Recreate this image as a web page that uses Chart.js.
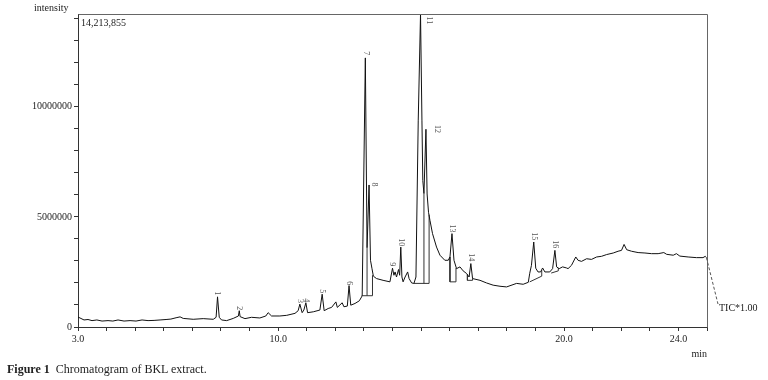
<!DOCTYPE html>
<html>
<head>
<meta charset="utf-8">
<script src="https://cdn.jsdelivr.net/npm/chart.js@4"></script>
<style>
  html, body { margin: 0; padding: 0; background: #fff; }
  #wrap { position: relative; width: 768px; height: 380px; }
  canvas { position: absolute; left: 0; top: 0; }
  #caption { position: absolute; left: 7px; top: 362px; font-family: "Liberation Serif", serif; font-size: 12px; color: #222; white-space: pre; }
  #caption b { font-weight: bold; }
</style>
</head>
<body>
<div id="wrap">
  <canvas id="c" width="768" height="380"></canvas>
  <div id="caption"><b>Figure 1</b>  Chromatogram of BKL extract.</div>
</div>
<script>
// ---- data ----
// retention time (min)
const rt = [
  3.00, 3.07, 3.21, 3.35, 3.49, 3.66, 3.84, 4.05, 4.22, 4.40, 4.61, 4.82, 5.03, 5.24, 5.45, 5.66, 5.87, 6.08, 6.25, 6.43,
  6.57, 6.68, 7.03, 7.38, 7.73, 7.83, 7.88, 7.94, 8.02, 8.20, 8.43, 8.61, 8.64, 8.67, 8.84, 9.07, 9.36, 9.57, 9.65, 9.77,
  10.06, 10.30, 10.59, 10.70, 10.76, 10.84, 10.90, 10.97, 11.03, 11.23, 11.46, 11.54, 11.61, 11.75, 11.87, 12.02, 12.07,
  12.24, 12.30, 12.42, 12.48, 12.54, 12.69, 12.84, 12.92, 12.94, 13.05, 13.11, 13.18, 13.23, 13.28, 13.33, 13.44, 13.67,
  13.91, 14.00, 14.05, 14.09, 14.14, 14.21, 14.25, 14.29, 14.33, 14.37, 14.44, 14.53, 14.58, 14.67, 14.75, 14.82, 14.90,
  14.98, 15.03, 15.06, 15.10, 15.17, 15.21, 15.26, 15.31, 15.40, 15.54, 15.66, 15.83, 15.95, 16.01, 16.08, 16.15, 16.24,
  16.36, 16.47, 16.59, 16.68, 16.74, 16.80, 17.06, 17.29, 17.52, 17.76, 17.99, 18.34, 18.57, 18.75, 18.80, 18.86, 18.94,
  19.01, 19.09, 19.18, 19.25, 19.33, 19.50, 19.60, 19.68, 19.74, 19.83, 19.95, 20.09, 20.14, 20.26, 20.41, 20.49, 20.61,
  20.79, 20.96, 21.14, 21.31, 21.49, 21.72, 21.89, 22.01, 22.10, 22.19, 22.36, 22.59, 22.83, 23.06, 23.29, 23.49, 23.59,
  23.82, 23.93, 24.05, 24.34, 24.63, 24.86, 24.94, 24.98
];
// total ion current (intensity)
const tic = [
  450000, 410000, 320000, 340000, 290000, 320000, 270000, 290000, 270000, 320000, 270000, 290000, 270000, 320000, 290000, 300000, 320000, 340000, 360000, 420000,
  460000, 390000, 350000, 380000, 350000, 440000, 1370000, 440000, 320000, 290000, 390000, 500000, 740000, 470000, 380000, 440000, 410000, 500000, 650000, 500000,
  500000, 530000, 620000, 740000, 1040000, 650000, 770000, 1100000, 650000, 690000, 770000, 1490000, 740000, 840000, 890000, 1140000, 890000,
  1100000, 920000, 950000, 1880000, 990000, 1070000, 1190000, 1370000, 1450000, 12220000, 3600000, 6450000, 3030000, 2670000, 2310000, 2200000, 2120000,
  2050000, 2670000, 2350000, 2500000, 2270000, 2610000, 2350000, 3630000, 2270000, 2050000, 2270000, 2500000, 2200000, 2000000, 1980000, 2270000, 9360000,
  14213855, 9360000, 6650000, 6060000, 8980000, 6040000, 5210000, 4840000, 4240000, 3630000, 3260000, 3030000, 3030000, 3180000, 4240000, 3030000, 2650000,
  2730000, 2550000, 2430000, 2270000, 2880000, 2200000, 2120000, 2000000, 1900000, 1850000, 1820000, 1980000, 1940000, 2030000, 2440000, 2800000, 3860000,
  2670000, 2500000, 2500000, 2680000, 2500000, 2500000, 2650000, 3480000, 2730000, 2650000, 2730000, 2680000, 2650000, 2800000, 3180000, 3030000, 2980000,
  3100000, 3070000, 3180000, 3210000, 3290000, 3360000, 3440000, 3480000, 3750000, 3510000, 3440000, 3380000, 3360000, 3330000, 3330000, 3380000, 3300000,
  3260000, 3330000, 3220000, 3180000, 3150000, 3150000, 3210000, 3150000
];
// integration (baseline / drop) lines: null separates segments
const intRT  = [12.93, 13.30, 13.30, null, 13.11, 13.11, null, 14.75, 15.28, 15.28, null, 15.10, 15.10, null,
                16.01, 16.01, 16.22, 16.22, null, 16.62, 16.62, 16.80, 16.80, null, 18.80, 19.22, 19.22, null, 19.55, 19.80, 19.80];
const intVal = [1420000, 1420000, 2350000, null, 1420000, 3600000, null, 1980000, 1980000, 5100000, null, 1980000, 6060000, null,
                3180000, 2050000, 2050000, 2680000, null, 2380000, 2120000, 2120000, 2200000, null, 2050000, 2310000, 2580000, null, 2450000, 2550000, 2680000];
// peak numbers and where their labels sit
const peakNo    = ['1','2','3','4','5','6','7','8','9','10','11','12','13','14','15','16'];
const peakLabRT = [7.88, 8.64, 10.76, 10.97, 11.54, 12.48, 13.06, 13.37, 14.00, 14.29, 15.27, 15.55, 16.08, 16.74, 18.96, 19.68];
const peakLabI  = [1400000, 720000, 1040000, 1080000, 1490000, 1850000, 12300000, 6330000, 2710000, 3620000, 13700000, 8770000, 4250000, 2940000, 3890000, 3530000];
// axis settings / tick labels
const xMin = 3, xMax = 25, xStep = 1;
const xLabeled = [3, 10, 20, 24];
const yMax = 14213855, yStep = 1000000;
const yLabeled = [0, 5000000, 10000000];
const maxText = '14,213,855';
const yTitle = 'intensity';
const xTitle = 'min';
const traceName = 'TIC*1.00';

const FONT = '"Liberation Serif", "Times New Roman", serif';

const ticData = rt.map((t, i) => ({ x: t, y: tic[i] }));
const intData = intRT.map((t, i) => ({ x: t, y: intVal[i] }));

const annot = {
  id: 'annot',
  afterDraw(chart) {
    const ctx = chart.ctx;
    const ca = chart.chartArea;
    const xs = chart.scales.x, ys = chart.scales.y;
    ctx.save();
    // frame top and right
    ctx.strokeStyle = '#666';
    ctx.lineWidth = 1;
    ctx.beginPath();
    ctx.moveTo(Math.round(ca.left) + 0.5, Math.round(ca.top) + 0.5);
    ctx.lineTo(Math.round(ca.right) + 0.5, Math.round(ca.top) + 0.5);
    ctx.lineTo(Math.round(ca.right) + 0.5, Math.round(ca.bottom) + 0.5);
    ctx.stroke();
    // peak labels (rotated)
    ctx.fillStyle = '#555';
    ctx.font = '8px ' + FONT;
    peakNo.forEach((lab, i) => {
      const px = xs.getPixelForValue(peakLabRT[i]);
      const py = ys.getPixelForValue(peakLabI[i]);
      ctx.save();
      ctx.translate(px, py - 1);
      ctx.rotate(Math.PI / 2);
      ctx.textAlign = 'right';
      ctx.textBaseline = 'middle';
      ctx.fillText(lab, 0, 0);
      ctx.restore();
    });
    // texts
    ctx.fillStyle = '#222';
    ctx.font = '10px ' + FONT;
    ctx.textBaseline = 'middle';
    ctx.textAlign = 'left';
    ctx.fillText(yTitle, 34, 8);
    ctx.fillText(maxText, ca.left + 3, ca.top + 9);
    ctx.textAlign = 'right';
    ctx.fillText(xTitle, ca.right, 354);
    // dashed leader to trace name
    const last = ticData[ticData.length - 1];
    const lx = xs.getPixelForValue(last.x), ly = ys.getPixelForValue(last.y);
    ctx.strokeStyle = '#555';
    ctx.setLineDash([3, 2]);
    ctx.beginPath();
    ctx.moveTo(lx, ly);
    ctx.lineTo(ca.right + 11, 304);
    ctx.stroke();
    ctx.setLineDash([]);
    ctx.textAlign = 'left';
    ctx.fillStyle = '#222';
    ctx.fillText(traceName, ca.right + 12, 308);
    ctx.restore();
  }
};

const isLabeled = (list, v) => list.some(L => Math.abs(L - v) < 1e-6 * Math.max(1, Math.abs(L)));

new Chart(document.getElementById('c'), {
  type: 'line',
  data: {
    datasets: [
      { data: ticData, borderColor: '#111', borderWidth: 1, pointRadius: 0, tension: 0, fill: false },
      { data: intData, borderColor: '#333', borderWidth: 1, pointRadius: 0, tension: 0, fill: false, spanGaps: false }
    ]
  },
  options: {
    responsive: false,
    animation: false,
    devicePixelRatio: 1,
    layout: { padding: { left: 0, top: 14, right: 61, bottom: 0 } },
    plugins: { legend: { display: false }, tooltip: { enabled: false } },
    scales: {
      x: {
        type: 'linear', min: xMin, max: xMax,
        afterFit(s) { s.height = 53; },
        afterBuildTicks(s) {
          const t = [];
          for (let v = xMin; v <= xMax + 1e-9; v += xStep) t.push({ value: v });
          s.ticks = t;
        },
        border: { display: true, color: '#333', width: 1 },
        grid: { display: true, drawOnChartArea: false, drawTicks: true, tickLength: 4, color: '#333' },
        ticks: {
          autoSkip: false, maxRotation: 0, padding: 2,
          color: '#222', font: { family: FONT, size: 10 },
          callback: v => isLabeled(xLabeled, v) ? Number(v).toFixed(1) : ''
        }
      },
      y: {
        type: 'linear', min: 0, max: yMax,
        afterFit(s) { s.width = 78; },
        afterBuildTicks(s) {
          const t = [];
          for (let v = 0; v <= yMax; v += yStep) t.push({ value: v });
          s.ticks = t;
        },
        border: { display: true, color: '#333', width: 1 },
        grid: { display: true, drawOnChartArea: false, drawTicks: true, tickLength: 4, color: '#333' },
        ticks: {
          autoSkip: false, padding: 2,
          color: '#222', font: { family: FONT, size: 10 },
          callback: v => isLabeled(yLabeled, v) ? String(Math.round(v)) : ''
        }
      }
    }
  },
  plugins: [annot]
});
</script>
</body>
</html>
